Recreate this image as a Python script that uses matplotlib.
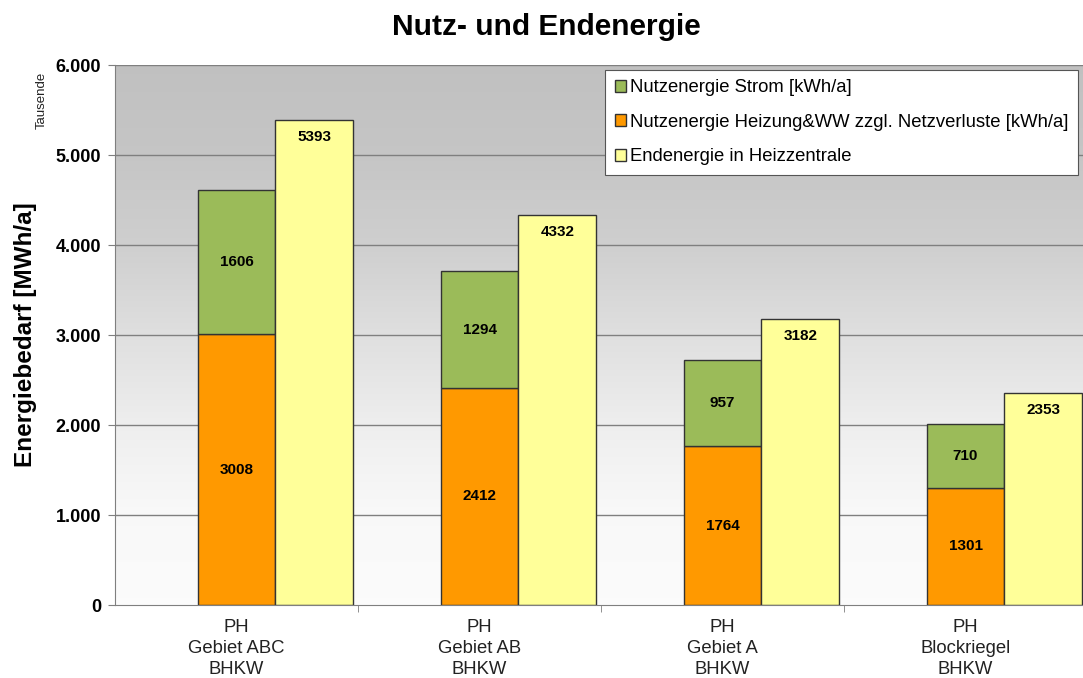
import matplotlib
matplotlib.use("Agg")
import matplotlib.pyplot as plt
import numpy as np
from matplotlib.ticker import FuncFormatter, FixedLocator

plt.rcParams['font.family'] = ['Liberation Sans', 'DejaVu Sans']

categories = ["PH\nGebiet ABC\nBHKW", "PH\nGebiet AB\nBHKW", "PH\nGebiet A\nBHKW", "PH\nBlockriegel\nBHKW"]
heizung = [3008, 2412, 1764, 1301]
strom = [1606, 1294, 957, 710]
endenergie = [5393, 4332, 3182, 2353]
series_names = ["Nutzenergie Strom [kWh/a]",
                "Nutzenergie Heizung&WW zzgl. Netzverluste [kWh/a]",
                "Endenergie in Heizzentrale"]
yticks = [0, 1000, 2000, 3000, 4000, 5000, 6000]

c_green = "#9BBB59"
c_orange = "#FF9900"
c_yellow = "#FFFF99"

fig = plt.figure(figsize=(10.83, 6.78), dpi=100)
ax = fig.add_axes([115/1083, 73/678, 972/1083, 540/678])

x = np.arange(len(categories))
w = 0.32

# gradient background (top gray, fading to white toward the bottom)
fr = np.linspace(1, 0, 300)
gp = [0.0, 0.17, 0.33, 0.5, 0.67, 0.83, 1.0]
gv = [0.985, 0.975, 0.935, 0.875, 0.81, 0.775, 0.755]
vals = np.interp(fr, gp, gv)
img = np.repeat(vals[:, None, None], 3, axis=2)
ax.imshow(img, extent=[0, 1, 0, 1], transform=ax.transAxes, aspect='auto', zorder=0)

ax.set_xlim(-0.5, 3.5)
ax.set_ylim(0, 6000)

for yv in yticks[1:]:
    ax.axhline(yv, color="#7f7f7f", lw=1.0, zorder=1)

b1 = ax.bar(x, heizung, w, color=c_orange, edgecolor="#333333", lw=1.0, zorder=2)
b2 = ax.bar(x, strom, w, bottom=heizung, color=c_green, edgecolor="#333333", lw=1.0, zorder=2)
b3 = ax.bar(x + w, endenergie, w, color=c_yellow, edgecolor="#333333", lw=1.0, zorder=2)

for i in range(len(categories)):
    ax.text(x[i], heizung[i] / 2, str(heizung[i]), ha='center', va='center',
            fontsize=11, fontweight='bold', zorder=3)
    ax.text(x[i], heizung[i] + strom[i] / 2, str(strom[i]), ha='center', va='center',
            fontsize=11, fontweight='bold', zorder=3)
    ax.text(x[i] + w, endenergie[i] - 190, str(endenergie[i]), ha='center', va='center',
            fontsize=11, fontweight='bold', zorder=3)

ax.yaxis.set_major_locator(FixedLocator(yticks))
ax.yaxis.set_major_formatter(FuncFormatter(lambda v, p: f"{int(v):,}".replace(",", ".")))
for lbl in ax.get_yticklabels():
    lbl.set_fontweight('bold')
ax.tick_params(axis='y', labelsize=13, length=5, color="#7f7f7f", pad=5)

ax.set_xticks(x)
ax.set_xticklabels(categories, fontsize=13.3, color="#222222", linespacing=1.3)
ax.tick_params(axis='x', length=0, pad=10)
ax.set_xticks([0.5, 1.5, 2.5], minor=True)
ax.tick_params(axis='x', which='minor', length=5, color="#7f7f7f")

for s in ['top', 'right']:
    ax.spines[s].set_visible(False)
ax.spines['left'].set_color("#7f7f7f")
ax.spines['bottom'].set_color("#7f7f7f")

ax.set_ylabel("Energiebedarf [MWh/a]", fontsize=17.5, fontweight='bold')
ax.yaxis.set_label_coords((37 - 115) / 972, 0.5)

fig.text(546/1083, 1 - 27/678, "Nutz- und Endenergie", ha='center', va='center',
         fontsize=21.5, fontweight='bold')
fig.text(42/1083, 1 - 100/678, "Tausende", rotation=90, ha='center', va='center',
         fontsize=9.5, color="#222222")

leg = ax.legend([b2, b1, b3], series_names, loc='upper right',
                bbox_to_anchor=((1078 - 115) / 972, 1 - 5/540), fontsize=13.3, frameon=True,
                fancybox=False, edgecolor="#555555", framealpha=1,
                handlelength=0.6, handleheight=0.6, handletextpad=0.25,
                labelspacing=0.95, borderpad=0.5, borderaxespad=0)
leg.get_frame().set_linewidth(0.8)

fig.savefig("out.png", dpi=100)
